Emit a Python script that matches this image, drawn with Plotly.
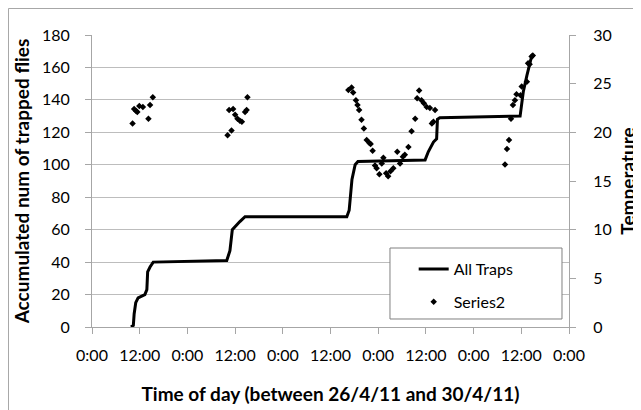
import plotly.graph_objects as go

# hours since 26/4/11 0:00
trap_hours = [9.8, 10.4, 10.6, 11.0, 11.6, 12.5, 13.3, 13.8, 14.0, 14.6, 15.4,
              33.9, 34.7, 35.3, 36.4, 37.2, 38.5,
              64.1, 64.7, 65.4, 66.2, 66.9,
              83.8, 84.6, 85.9, 86.7, 86.9, 87.5,
              107.7, 108.5, 109.4, 110.4, 110.9]
trap_count = [0, 1, 8, 15, 18, 19, 20, 23, 34, 37, 40,
              41, 47, 60, 63, 65, 68,
              68, 72, 91, 100, 102,
              103, 108, 114, 116, 128, 129,
              130, 145, 155, 165, 167]

temp_hours = [10.2, 10.6, 11.1, 11.4, 11.9, 12.8, 14.2, 14.6, 15.3,
              34.1, 35.1, 34.5, 35.5, 36.0, 36.6, 37.2, 37.7, 38.5, 38.9, 39.1,
              64.5, 65.3, 65.7, 66.4, 66.8, 67.2, 67.8, 68.4, 69.1, 69.8, 70.1, 70.6,
              71.2, 71.6, 72.3, 72.9, 73.3, 74.0, 74.5, 75.1, 75.8, 76.8, 77.5, 78.2,
              78.7, 79.6, 80.4, 81.3, 81.8, 82.3, 82.9, 83.5, 84.2, 85.0, 85.5, 85.9, 86.3,
              103.9, 104.4, 104.9, 105.4, 105.9, 106.4, 106.8, 107.8, 108.1, 109.4,
              109.7, 110.1, 110.6, 110.9]
temp_vals = [20.9, 22.4, 22.2, 22.1, 22.7, 22.6, 21.4, 22.8, 23.6,
             19.7, 20.2, 22.3, 22.4, 21.8, 21.4, 21.2, 21.1, 22.1, 22.3, 23.6,
             24.35, 24.6, 24.1, 23.3, 22.8, 22.3, 21.3, 20.4, 19.2, 18.9, 18.8, 18.1,
             16.6, 16.3, 15.7, 16.8, 17.4, 15.8, 15.5, 16.0, 16.3, 18.0, 16.8, 17.5,
             17.7, 18.5, 20.1, 21.4, 23.5, 24.3, 23.3, 23.0, 22.6, 22.5, 20.9, 21.1, 22.3,
             16.7, 18.3, 19.2, 21.4, 22.8, 23.3, 23.9, 23.8, 24.7, 25.2,
             27.1, 27.0, 27.8, 27.9]

tick_hours = list(range(0, 121, 12))
tick_text = ["0:00" if h % 24 == 0 else "12:00" for h in tick_hours]

AX = "#a6a6a6"
GRID = "#bdbdbd"
FONT = dict(family="Lato, sans-serif", size=16, color="#000000")

fig = go.Figure()
fig.add_trace(go.Scatter(
    x=trap_hours, y=trap_count, mode="lines", name="All Traps",
    line=dict(color="#000000", width=3), legendgroup="a",
))
fig.add_trace(go.Scatter(
    x=temp_hours, y=temp_vals, mode="markers", name="Series2", yaxis="y2",
    marker=dict(color="#000000", size=5, symbol="diamond"), legendgroup="b",
))

# page body has an 8px margin, so the figure is 8px smaller on each side
fig.update_layout(
    width=633, height=402, autosize=False,
    margin=dict(l=84, r=72, t=27, b=83),
    paper_bgcolor="#ffffff", plot_bgcolor="#ffffff",
    font=FONT,
    xaxis=dict(
        range=[0, 120], tickvals=tick_hours, ticktext=tick_text, automargin=False,
        showgrid=False, zeroline=False, showline=True, linecolor=AX, linewidth=1,
        ticks="outside", ticklen=6, tickcolor=AX, ticklabelstandoff=8,
        title=dict(text="<b>Time of day (between 26/4/11 and 30/4/11)</b>", standoff=24),
    ),
    yaxis=dict(
        range=[0, 180], dtick=20, showgrid=True, gridcolor=GRID, gridwidth=1,
        zeroline=False, showline=True, linecolor=AX, linewidth=1, automargin=False,
        ticks="outside", ticklen=6, tickcolor=AX, ticklabelstandoff=12,
        title=dict(text="<b>Accumulated num of trapped flies</b>", standoff=7),
    ),
    yaxis2=dict(
        range=[0, 30], dtick=5, overlaying="y", side="right", showgrid=False,
        zeroline=False, showline=True, linecolor=AX, linewidth=1, automargin=False,
        ticks="outside", ticklen=6, tickcolor=AX, ticklabelstandoff=14,
        title=dict(text="<b>Temperature</b>", standoff=10),
    ),
    legend=dict(
        x=0.6744, y=0.2568, xanchor="left", yanchor="top",
        bgcolor="rgba(0,0,0,0)", borderwidth=0,
        tracegroupgap=9, traceorder="grouped", font=FONT,
    ),
    showlegend=True,
)

# legend frame
fig.add_shape(type="rect", xref="paper", yref="paper",
              x0=0.6247, y0=0.0274, x1=0.9853, y1=0.2705,
              fillcolor="#ffffff", line=dict(color="#808080", width=1), layer="above")

# chart-area border (top and left edges visible)
fig.add_shape(type="rect", xref="paper", yref="paper",
              x0=-0.1751, y0=-0.31, x1=1.17, y1=1.0908,
              line=dict(color="#a6a6a6", width=1), layer="below")

fig.write_html("out.html")
